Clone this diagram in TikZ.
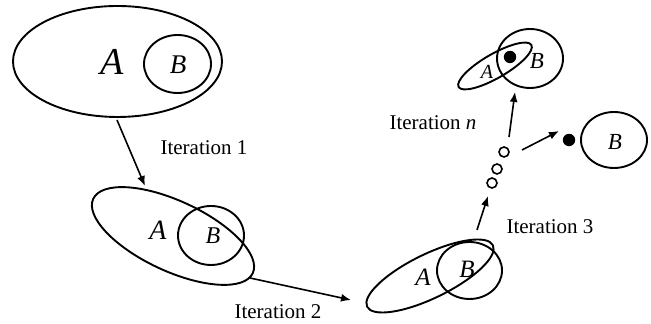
\documentclass[tikz,border=0pt]{standalone}
\usepackage{fontspec}
\setmainfont{Liberation Serif}
\usetikzlibrary{shapes.geometric, arrows.meta, positioning}

\begin{document}
\begin{tikzpicture}[
        x=0.5pt, y=0.5pt,
        every node/.style={align=center},
        conjunto/.style={draw, ellipse, line width=0.95pt, inner sep=0pt},
        ponto/.style={draw, circle, line width=0.8pt, inner sep=0pt, minimum size=5pt},
        pontocheio/.style={fill, circle, inner sep=0pt, minimum size=6.2pt},
        seta/.style={-{Latex[length=5pt, width=4pt]}, line width=0.8pt},
        rotulo/.style={font=\fontsize{10.5}{12}\selectfont}
    ]
        \useasboundingbox (0,0) rectangle (651,324);
        % estado inicial
        \node[conjunto, minimum width=104.5pt, minimum height=55.5pt] (ellA1) at (117.5,262.5) {};
        \node[conjunto, minimum width=33.5pt, minimum height=29pt] (cirB1) at (177.5,260) {};
        \node[font=\fontsize{19}{20}\selectfont\itshape] (txtA1) at (112,262) {A};
        \node[font=\fontsize{13.5}{15}\selectfont\itshape] (txtB1) at (178,259) {B};
        % iteracao 1
        \node[conjunto, minimum width=88pt, minimum height=35pt, rotate=-25] (ellA2) at (173,88) {};
        \node[conjunto, minimum width=33pt, minimum height=29.5pt] (cirB2) at (211,88.5) {};
        \node[font=\fontsize{14}{15}\selectfont\itshape] (txtA2) at (158,94) {A};
        \node[font=\fontsize{12}{14}\selectfont\itshape] (txtB2) at (213,88) {B};
        % iteracao 2
        \node[conjunto, minimum width=70pt, minimum height=22pt, rotate=26] (ellA3) at (430,48) {};
        \node[conjunto, minimum width=32.5pt, minimum height=28.5pt] (cirB3) at (469.5,53.5) {};
        \node[font=\fontsize{12.5}{14}\selectfont\itshape] (txtA3) at (423,47) {A};
        \node[font=\fontsize{12.5}{14}\selectfont\itshape] (txtB3) at (467,55) {B};
        % passos intermediarios
        \node[ponto] (p1) at (492,141) {};
        \node[ponto] (p2) at (497,155) {};
        \node[ponto] (p3) at (504,172) {};
        % iteracao n
        \node[conjunto, minimum width=42pt, minimum height=12pt, rotate=30] (ellAn) at (495,258) {};
        \node[conjunto, minimum width=33pt, minimum height=29.5pt] (cirBn) at (530,265.5) {};
        \node[pontocheio] (dotn) at (510,267) {};
        \node[font=\fontsize{10}{12}\selectfont\itshape] (txtAn) at (487,252) {A};
        \node[font=\fontsize{11.5}{13}\selectfont\itshape] (txtBn) at (537,263) {B};
        % limite
        \node[pontocheio] (dotlim) at (569,184) {};
        \node[conjunto, minimum width=33pt, minimum height=28pt] (cirBlim) at (614,184) {};
        \node[font=\fontsize{11.5}{13}\selectfont\itshape] (txtBlim) at (615,182) {B};
        % setas
        \coordinate (s1a) at (117,204);
        \coordinate (s1b) at (145,138);
        \coordinate (s2a) at (250,46);
        \coordinate (s2b) at (351,24);
        \coordinate (s3a) at (477,94);
        \coordinate (s3b) at (488,128);
        \coordinate (sna) at (509,187);
        \coordinate (snb) at (515,232);
        \coordinate (sla) at (522,174);
        \coordinate (slb) at (559,193);
        \draw[seta] (s1a) -- (s1b);
        \draw[seta] (s2a) -- (s2b);
        \draw[seta] (s3a) -- (s3b);
        \draw[seta] (sna) -- (snb);
        \draw[seta] (sla) -- (slb);
        \node[rotulo] (it1) at (204,176) {Iteration 1};
        \node[rotulo] (it2) at (278,12) {Iteration 2};
        \node[rotulo] (it3) at (550,97) {Iteration 3};
        \node[rotulo] (itn) at (433,201) {Iteration \textit{n}};
    \end{tikzpicture}
\end{document}
